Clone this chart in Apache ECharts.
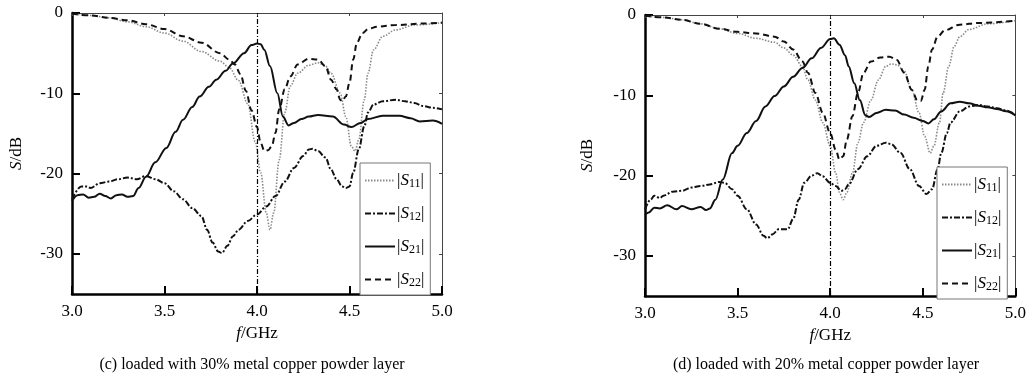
<!DOCTYPE html>
<html>
<head>
<meta charset="utf-8">
<script src="https://cdn.jsdelivr.net/npm/echarts@6/dist/echarts.min.js"></script>
<style>
  html, body { margin: 0; padding: 0; background: #fff; }
  #main { width: 1029px; height: 378px; }
</style>
</head>
<body>
<div id="main"></div>
<script>
// axis ticks / labels
var freqTicks = [3.0, 3.5, 4.0, 4.5, 5.0];
var dbTicks = [0, -10, -20, -30];
var markFreq = 4.0;
var legendNames = ['S11', 'S12', 'S21', 'S22'];
var captions = ['(c) loaded with 30% metal copper powder layer', '(d) loaded with 20% metal copper powder layer'];

// (c) 30% copper powder  -- [f/GHz, S/dB]
var c_S11 = [[3.0,-0.1],[3.1,-0.3],[3.2,-0.6],[3.3,-1.1],[3.4,-1.7],[3.5,-2.5],[3.6,-3.5],[3.7,-4.8],[3.8,-6.0],
  [3.85,-6.8],[3.9,-8.4],[3.95,-11.3],[3.99,-16.0],[4.02,-19.9],[4.05,-24.9],[4.07,-27.0],[4.09,-24.9],[4.12,-18.3],
  [4.15,-12.4],[4.18,-9.1],[4.22,-7.5],[4.28,-6.5],[4.33,-6.2],[4.37,-6.6],[4.4,-7.5],[4.45,-10.0],[4.48,-12.9],
  [4.51,-16.6],[4.53,-17.2],[4.55,-15.8],[4.58,-10.8],[4.6,-7.5],[4.63,-4.6],[4.68,-2.9],[4.75,-2.1],[4.85,-1.5],[5.0,-1.2]];
var c_S12 = [[3.0,-23.2],[3.05,-21.6],[3.08,-21.6],[3.1,-21.8],[3.15,-21.2],[3.2,-21.0],[3.25,-20.7],[3.3,-20.5],
  [3.35,-20.7],[3.4,-20.3],[3.45,-20.7],[3.5,-21.2],[3.55,-22.2],[3.6,-23.2],[3.65,-24.3],[3.7,-25.3],[3.73,-27.0],
  [3.76,-28.6],[3.79,-29.7],[3.81,-29.9],[3.84,-29.0],[3.87,-27.8],[3.9,-27.0],[3.95,-25.9],[4.0,-25.1],[4.05,-24.1],
  [4.1,-22.8],[4.15,-21.0],[4.2,-19.3],[4.25,-17.8],[4.28,-17.0],[4.3,-16.9],[4.33,-17.2],[4.37,-18.0],[4.4,-19.5],
  [4.43,-20.7],[4.46,-21.6],[4.48,-21.8],[4.5,-21.6],[4.52,-19.9],[4.55,-17.0],[4.58,-14.1],[4.6,-12.4],[4.63,-11.4],
  [4.68,-11.0],[4.75,-10.8],[4.8,-11.0],[4.85,-11.2],[4.9,-11.6],[4.95,-11.8],[5.0,-12.0]];
var c_S21 = [[3.0,-23.4],[3.03,-22.7],[3.06,-22.6],[3.09,-23.0],[3.12,-22.9],[3.15,-22.5],[3.18,-22.8],[3.21,-23.1],
  [3.24,-22.7],[3.27,-22.6],[3.3,-22.9],[3.33,-22.8],[3.36,-21.8],[3.4,-20.4],[3.45,-18.6],[3.51,-16.8],[3.56,-14.8],
  [3.6,-13.3],[3.65,-11.7],[3.69,-10.4],[3.74,-9.2],[3.78,-8.3],[3.83,-7.2],[3.87,-6.3],[3.93,-5.0],[3.97,-4.0],
  [4.0,-3.8],[4.02,-3.9],[4.04,-4.6],[4.07,-6.6],[4.11,-10.0],[4.14,-12.9],[4.17,-14.0],[4.2,-13.7],[4.24,-13.2],
  [4.28,-12.9],[4.33,-12.7],[4.41,-12.9],[4.47,-13.9],[4.51,-14.2],[4.56,-13.7],[4.6,-13.2],[4.68,-12.8],[4.77,-12.8],
  [4.83,-13.1],[4.88,-13.5],[4.95,-13.4],[5.0,-13.8]];
var c_S22 = [[3.0,-0.1],[3.1,-0.3],[3.2,-0.6],[3.3,-0.9],[3.4,-1.4],[3.5,-2.0],[3.6,-2.9],[3.7,-3.7],[3.8,-5.0],
  [3.85,-5.8],[3.88,-6.4],[3.91,-7.6],[3.94,-9.7],[3.97,-12.1],[4.0,-14.2],[4.02,-16.2],[4.04,-17.2],[4.06,-17.1],
  [4.08,-16.6],[4.1,-14.9],[4.12,-12.0],[4.15,-9.5],[4.18,-7.9],[4.22,-6.4],[4.28,-5.7],[4.33,-5.8],[4.37,-6.6],
  [4.4,-8.3],[4.43,-9.5],[4.45,-10.8],[4.46,-11.0],[4.48,-10.4],[4.5,-8.7],[4.52,-5.8],[4.54,-3.7],[4.57,-2.5],
  [4.6,-2.0],[4.65,-1.7],[4.75,-1.5],[4.9,-1.3],[5.0,-1.2]];

// (d) 20% copper powder
var d_S11 = [[3.0,-0.1],[3.1,-0.3],[3.2,-0.6],[3.3,-1.1],[3.4,-1.7],[3.5,-2.3],[3.6,-2.9],[3.7,-3.4],[3.75,-4.1],
  [3.8,-5.0],[3.85,-6.4],[3.88,-8.1],[3.92,-10.6],[3.96,-13.4],[4.0,-16.3],[4.03,-19.7],[4.05,-22.1],[4.07,-23.0],
  [4.09,-22.1],[4.12,-19.7],[4.15,-15.9],[4.18,-13.4],[4.22,-10.6],[4.26,-8.1],[4.3,-6.4],[4.33,-6.1],[4.36,-6.2],
  [4.4,-7.0],[4.44,-9.3],[4.48,-12.2],[4.51,-15.1],[4.54,-17.2],[4.56,-16.3],[4.59,-13.4],[4.61,-9.7],[4.64,-6.4],
  [4.67,-3.9],[4.7,-2.7],[4.75,-1.8],[4.85,-1.1],[5.0,-0.7]];
var d_S12 = [[3.0,-24.2],[3.03,-23.0],[3.05,-22.5],[3.08,-22.8],[3.1,-22.5],[3.15,-22.0],[3.2,-21.9],[3.25,-21.5],
  [3.3,-21.3],[3.35,-21.1],[3.4,-20.8],[3.43,-20.9],[3.47,-21.7],[3.5,-22.5],[3.55,-24.2],[3.6,-26.1],[3.64,-27.5],
  [3.66,-27.8],[3.69,-27.3],[3.72,-26.7],[3.75,-26.7],[3.77,-26.7],[3.8,-25.4],[3.83,-23.0],[3.86,-20.9],[3.9,-20.0],
  [3.93,-19.7],[3.96,-20.1],[4.0,-20.9],[4.03,-21.3],[4.06,-21.9],[4.08,-21.7],[4.1,-21.1],[4.15,-19.2],[4.2,-17.6],
  [4.25,-16.3],[4.3,-15.9],[4.33,-16.1],[4.38,-17.2],[4.43,-19.2],[4.48,-21.3],[4.52,-22.3],[4.55,-21.7],[4.58,-19.2],
  [4.6,-17.2],[4.63,-14.7],[4.65,-13.4],[4.7,-12.0],[4.75,-11.4],[4.8,-11.2],[4.85,-11.4],[4.9,-11.6],[4.95,-11.9],[5.0,-12.4]];
var d_S21 = [[3.0,-24.9],[3.02,-24.6],[3.05,-24.0],[3.08,-24.1],[3.12,-23.7],[3.17,-24.2],[3.2,-23.8],[3.25,-24.2],
  [3.3,-23.9],[3.33,-24.3],[3.35,-24.1],[3.38,-23.0],[3.42,-20.5],[3.47,-17.2],[3.5,-16.3],[3.55,-14.7],[3.6,-13.2],
  [3.65,-11.4],[3.7,-10.1],[3.75,-8.9],[3.8,-7.7],[3.85,-6.6],[3.9,-5.4],[3.95,-4.1],[4.0,-3.0],[4.02,-2.9],
  [4.05,-3.7],[4.08,-5.0],[4.1,-6.4],[4.13,-8.5],[4.16,-10.6],[4.19,-12.5],[4.21,-12.7],[4.25,-12.2],[4.3,-11.8],
  [4.35,-11.9],[4.4,-12.4],[4.45,-12.8],[4.5,-13.2],[4.53,-13.5],[4.56,-13.0],[4.6,-12.0],[4.65,-11.0],[4.7,-10.8],
  [4.75,-11.0],[4.8,-11.3],[4.85,-11.5],[4.9,-11.7],[4.95,-12.0],[5.0,-12.5]];
var d_S22 = [[3.0,-0.1],[3.1,-0.3],[3.2,-0.6],[3.3,-1.1],[3.4,-1.7],[3.5,-2.1],[3.6,-2.3],[3.7,-2.7],[3.75,-3.3],
  [3.8,-4.3],[3.85,-5.8],[3.88,-7.2],[3.92,-9.7],[3.96,-12.2],[4.0,-14.7],[4.03,-16.8],[4.05,-18.0],[4.07,-17.6],
  [4.09,-15.5],[4.12,-12.6],[4.15,-9.7],[4.18,-7.2],[4.22,-5.8],[4.27,-5.3],[4.32,-5.2],[4.36,-5.6],[4.4,-7.2],
  [4.44,-9.3],[4.47,-10.6],[4.49,-10.7],[4.51,-9.3],[4.53,-6.4],[4.55,-4.3],[4.58,-2.7],[4.62,-1.9],[4.7,-1.2],
  [4.8,-1.0],[5.0,-0.7]];

var FONT = 'Liberation Serif';
var chart = echarts.init(document.getElementById('main'));

// line styles of the four S parameters
var styles = {
  S11: { color: '#8a8a8a', width: 1.6, type: [1.5, 1.5] },
  S12: { color: '#111', width: 2, type: [6, 2, 2, 2] },
  S21: { color: '#111', width: 2, type: 'solid' },
  S22: { color: '#111', width: 2, type: [6, 4] }
};

function makeSeries(name, data, gi) {
  var s = {
    name: name,
    type: 'line',
    xAxisIndex: gi * 2,
    yAxisIndex: gi * 2,
    data: data,
    showSymbol: false,
    symbol: 'none',
    smooth: 0.35,
    smoothMonotone: 'x',
    color: styles[name].color,
    lineStyle: styles[name],
    z: name == 'S21' ? 4 : 3,
    animation: false
  };
  return s;
}

function xAxes(gi) {
  return [{
    type: 'value', gridIndex: gi, position: 'bottom', min: 3, max: 5, interval: 0.5,
    axisLine: { onZero: false, lineStyle: { color: '#000', width: 2.5 } },
    axisTick: { inside: true, length: 8, lineStyle: { color: '#000', width: 2 } },
    axisLabel: { fontFamily: FONT, fontSize: 17, color: '#000', margin: 9,
                 formatter: function (v) { return v.toFixed(1); } },
    splitLine: { show: false },
    name: '{i|f}/GHz', nameLocation: 'middle', nameGap: 28,
    nameTextStyle: { fontFamily: FONT, fontSize: 17, color: '#000',
                     rich: { i: { fontFamily: FONT, fontSize: 17, fontStyle: 'italic', color: '#000' } } }
  }, {
    type: 'value', gridIndex: gi, position: 'top', min: 3, max: 5, interval: 0.5,
    axisLine: { onZero: false, lineStyle: { color: '#444', width: 1 } },
    axisTick: { inside: true, length: 3, lineStyle: { color: '#444', width: 1 } },
    axisLabel: { show: false }, splitLine: { show: false }
  }];
}

function yAxes(gi, gap) {
  return [{
    type: 'value', gridIndex: gi, position: 'left', min: -35, max: 0,
    axisLine: { onZero: false, lineStyle: { color: '#000', width: 2.5 } },
    axisTick: { inside: true, length: 8, customValues: dbTicks, lineStyle: { color: '#000', width: 2 } },
    axisLabel: { fontFamily: FONT, fontSize: 17, color: '#000', margin: 9, customValues: dbTicks },
    splitLine: { show: false },
    name: '{i|S}/dB', nameLocation: 'middle', nameGap: gap, nameRotate: 90,
    nameTextStyle: { fontFamily: FONT, fontSize: 17, color: '#000',
                     rich: { i: { fontFamily: FONT, fontSize: 17, fontStyle: 'italic', color: '#000' } } }
  }, {
    type: 'value', gridIndex: gi, position: 'right', min: -35, max: 0,
    axisLine: { show: true, onZero: false, lineStyle: { color: '#444', width: 1 } },
    axisTick: { inside: true, length: 3, customValues: dbTicks, lineStyle: { color: '#444', width: 1 } },
    axisLabel: { show: false }, splitLine: { show: false }
  }];
}

function legendAt(left, top) {
  return {
    left: left, top: top, orient: 'vertical',
    data: legendNames,
    itemWidth: 30, itemHeight: 14, itemGap: 15,
    padding: [9, 6, 6, 4],
    backgroundColor: '#fff',
    borderColor: '#777', borderWidth: 1,
    selectedMode: false,
    itemStyle: { opacity: 0 },
    formatter: function (n) { return '|{s|S}{b|' + n.slice(1) + '}|'; },
    textStyle: {
      fontFamily: FONT, fontSize: 17, color: '#000', padding: [0, 0, 0, -3],
      rich: {
        s: { fontFamily: FONT, fontSize: 17, fontStyle: 'italic', color: '#000' },
        b: { fontFamily: FONT, fontSize: 12, color: '#000', padding: [7, 0, 0, 0] }
      }
    }
  };
}

var series = [];
[c_S11, c_S12, c_S21, c_S22].forEach(function (d, i) { series.push(makeSeries(legendNames[i], d, 0)); });
[d_S11, d_S12, d_S21, d_S22].forEach(function (d, i) { series.push(makeSeries(legendNames[i], d, 1)); });

// vertical marker at 4.0 GHz on both plots
[0, 1].forEach(function (gi) {
  series.push({
    type: 'line', xAxisIndex: gi * 2, yAxisIndex: gi * 2, data: [], silent: true,
    markLine: {
      symbol: ['none', 'none'], silent: true, label: { show: false },
      lineStyle: { color: '#000', width: 1.2, type: [5, 2, 1, 2] },
      data: [{ xAxis: markFreq }]
    },
    animation: false
  });
});

var option = {
  backgroundColor: '#fff',
  animation: false,
  grid: [
    { left: 72, top: 13, width: 370, height: 281 },
    { left: 645, top: 15, width: 372, height: 281 }
  ],
  xAxis: xAxes(0).concat(xAxes(1)),
  yAxis: yAxes(0, 47).concat(yAxes(1, 49)),
  legend: [legendAt(360, 163), legendAt(937, 167)],
  series: series,
  graphic: [
    { type: 'text', x: 252, y: 365, style: { text: captions[0], font: '16px "Liberation Serif"', fill: '#000', align: 'center', verticalAlign: 'middle' } },
    { type: 'text', x: 826, y: 365, style: { text: captions[1], font: '16px "Liberation Serif"', fill: '#000', align: 'center', verticalAlign: 'middle' } }
  ]
};

chart.setOption(option);
</script>
</body>
</html>
